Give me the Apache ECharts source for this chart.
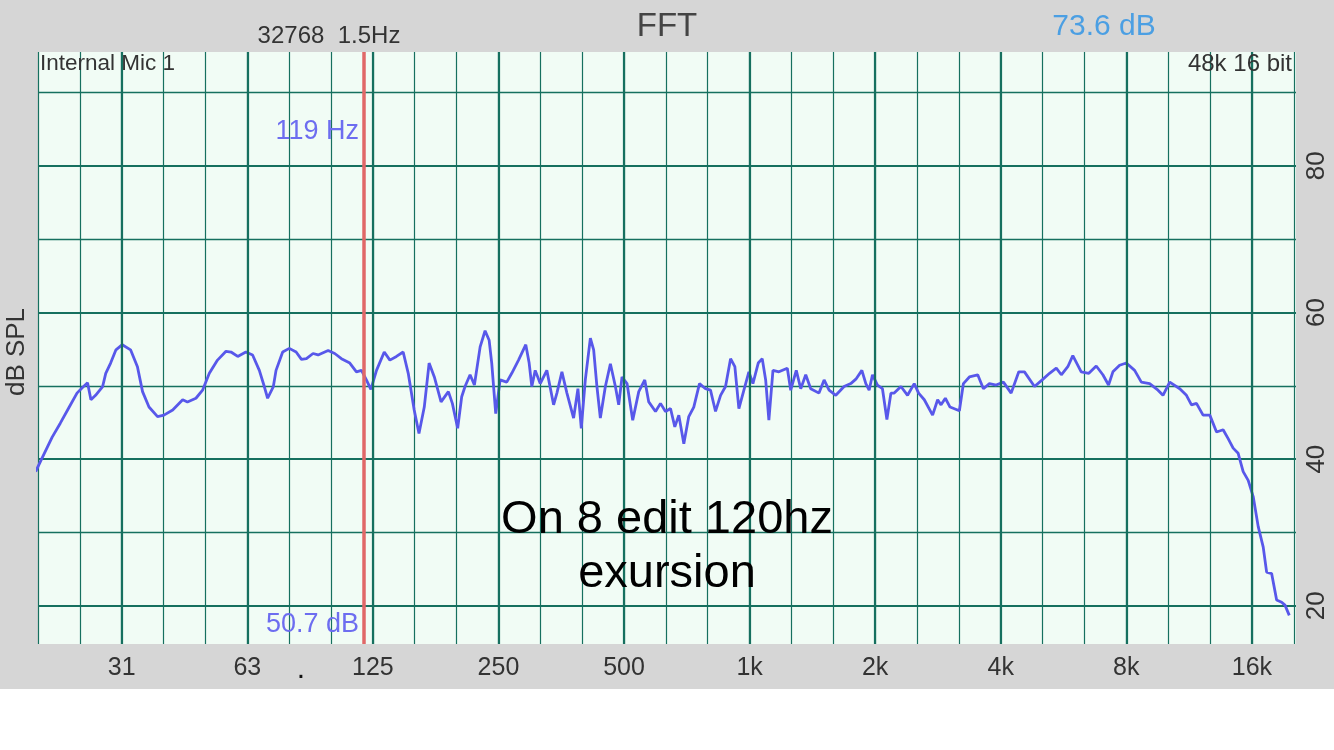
<!DOCTYPE html>
<html><head><meta charset="utf-8">
<script src="https://cdn.jsdelivr.net/npm/echarts@6/dist/echarts.min.js"></script>
<style>html,body{margin:0;padding:0;background:#fff;}#c{width:1334px;height:750px;}</style>
</head><body><div id="c"></div>
<script>
// ---- data (frequency in Hz on the analyser's binary-octave scale, level in dB SPL) ----
const freqHz = [
  19.9,20.6,21.8,22.8,23.9,25.0,25.7,26.5,27.0,27.7,
  28.8,29.3,30.1,31.0,32.1,33.6,34.9,35.9,37.2,39.0,
  40.4,42.4,44.8,46.0,48.2,50.0,51.9,54.3,56.9,58.5,
  60.7,63.5,65.9,68.4,70.3,71.6,73.9,75.0,77.8,80.7,
  83.8,86.3,88.7,92.0,94.6,100.0,103.7,107.6,112.7,116.9,
  120.2,123.5,126.6,130.6,136.3,140.6,145.8,151.3,155.6,160.8,
  165.1,170.0,174.6,179.7,186.5,194.2,198.5,204.4,209.0,212.9,
  218.9,224.2,231.4,237.8,243.2,246.7,252.2,258.4,268.0,275.5,
  286.0,297.7,303.3,307.8,313.6,322.4,334.4,347.1,353.5,363.4,
  373.6,387.6,397.0,404.4,413.5,425.2,433.0,440.9,449.3,461.9,
  474.9,488.2,497.2,506.4,520.6,537.2,555.4,574.1,586.9,609.2,
  626.2,643.7,661.8,677.7,692.8,712.3,732.0,752.5,776.6,802.8,
  825.2,848.5,872.4,896.6,921.9,944.0,965.2,992.3,1020,1043,
  1074,1098,1119,1139,1165,1204,1261,1285,1325,1358,
  1396,1435,1502,1545,1588,1648,1725,1790,1841,1903,
  1945,1981,2018,2074,2132,2185,2234,2275,2361,2449,
  2541,2603,2686,2812,2891,2946,3017,3096,3260,3333,
  3445,3607,3722,3848,3993,4157,4338,4525,4669,4935,
  5149,5362,5566,5722,5931,6097,6386,6661,6939,7197,
  7427,7607,7894,8192,8577,8901,9318,9758,10030,10410,
  11003,11416,11738,12067,12514,12988,13479,13979,14372,14773,
  15188,15614,16053,16502,16966,17441,17771,18270,18781,19309,19665,20139
];
const splDb = [
  38.3,40.1,43.0,44.9,47.0,49.0,49.7,50.4,48.1,48.7,
  49.9,51.7,53.1,54.9,55.6,54.9,52.6,49.2,47.1,45.8,
  46.0,46.7,48.1,47.8,48.3,49.4,51.7,53.5,54.7,54.6,
  54.0,54.6,54.2,52.1,49.9,48.3,49.9,52.1,54.6,55.1,
  54.6,53.6,53.7,54.4,54.2,54.8,54.4,53.7,53.1,51.9,
  52.1,50.8,49.5,52.1,54.6,53.5,54.0,54.6,51.7,46.7,
  43.5,47.1,53.1,51.2,47.8,49.2,47.6,44.2,48.5,49.9,
  51.5,50.1,55.3,57.5,56.2,53.1,46.2,50.8,50.5,51.7,
  53.5,55.6,53.1,49.9,52.1,50.3,52.1,47.4,49.0,51.9,
  49.0,45.6,49.6,44.2,50.8,56.5,54.9,49.9,45.6,49.9,
  53.0,49.9,47.4,51.2,50.3,45.3,49.2,50.8,47.8,46.5,
  47.6,46.5,46.9,44.4,46.0,42.1,45.8,47.1,50.3,49.6,
  49.4,46.5,48.7,49.9,53.7,52.6,46.9,49.4,51.9,50.3,
  53.1,53.7,50.8,45.3,52.1,51.9,52.4,49.4,52.1,49.6,
  51.5,49.6,49.0,50.8,49.4,48.7,49.9,50.3,50.9,52.1,
  50.3,49.4,51.5,50.1,49.6,45.4,49.0,49.0,49.9,48.7,
  50.3,49.0,48.1,46.0,48.1,47.4,48.3,47.1,46.6,50.3,
  51.2,51.5,49.6,50.3,50.1,50.5,49.0,51.9,51.9,49.9,
  50.8,51.7,52.4,51.5,52.6,54.1,51.9,51.7,52.7,51.5,
  50.1,51.9,52.8,53.1,52.1,50.5,50.3,49.4,48.7,50.5,
  49.6,48.7,47.4,47.6,46.0,46.0,43.7,44.0,42.8,41.5,
  40.8,38.3,37.1,34.9,30.8,28.0,24.6,24.4,20.8,20.5,20.1,18.7
];
const xTickHz = [32,64,128,256,512,1024,2048,4096,8192,16384];
const xTickLabels = ['31','63','125','250','500','1k','2k','4k','8k','16k'];
const yTickLabels = [20,40,60,80];
const cursorHz = 122;
const cursorText = '119 Hz';
const cursorLevelText = '50.7 dB';
const titleText = 'FFT';
const fftInfoText = '32768  1.5Hz';
const peakText = '73.6 dB';
const inputText = 'Internal Mic 1';
const formatText = '48k 16 bit';
const yAxisName = 'dB SPL';
const noteLines = ['On 8 edit 120hz', 'exursion'];

// ---- layout / style ----
const FONT = '"Liberation Sans", Arial, Helvetica, sans-serif';
const GRID = '#16705f';
const xMin = Math.pow(2, 13/3);
const xMax = 20900;
const yMin = 14.8, yMax = 95.5;

const chart = echarts.init(document.getElementById('c'), null, {renderer:'canvas'});
const data = freqHz.map((f,i)=>[f, splDb[i]]);

function txt(text, x, y, size, fill, align) {
  return {type:'text', z:100, silent:true,
    style:{text:text, x:x, y:y, font: size+'px '+FONT, fill:fill, align:align||'center', verticalAlign:'middle'}};
}

// third-octave index of each labelled octave line (for the label axis)
const thirdOctIdx = xTickHz.map(f=>Math.round(3*Math.log2(f)));

chart.setOption({
  animation:false,
  backgroundColor:'#d6d6d6',
  grid:{left:38, right:38, top:52, bottom:106, show:true, backgroundColor:'#f1fcf5', borderWidth:0},
  xAxis:[
    {type:'log', logBase:2, min:xMin, max:xMax,
     axisLine:{show:false}, axisTick:{show:false}, axisLabel:{show:false}, splitLine:{show:false}},
    {type:'value', min:13, max:3*Math.log2(xMax), interval:1, position:'bottom',
     axisLine:{show:false}, axisTick:{show:false},
     axisLabel:{show:true, interval:0, color:'#333', fontSize:25, fontFamily:FONT, margin:12,
       showMinLabel:true, showMaxLabel:false, hideOverlap:false,
       formatter:function(v){const i=thirdOctIdx.indexOf(Math.round(v));return (i>=0 && Math.abs(v-Math.round(v))<1e-6)?xTickLabels[i]:'';}},
     splitLine:{show:true, showMaxLine:false, lineStyle:{color:GRID, width:1.2}}}
  ],
  yAxis:{type:'value', position:'right', min:yMin, max:yMax, splitNumber:4,
    axisLine:{show:false}, axisTick:{show:false},
    axisLabel:{rotate:90, color:'#333', fontSize:26, fontFamily:FONT, margin:8,
      showMinLabel:false, showMaxLabel:false,
      formatter:function(v){return yTickLabels.indexOf(Math.round(v))>=0 && Math.abs(v-Math.round(v))<1e-6 ? String(Math.round(v)) : '';}},
    splitLine:{show:true, showMinLine:false, showMaxLine:false, lineStyle:{color:GRID, width:2}},
    minorTick:{show:false, splitNumber:2},
    minorSplitLine:{show:true, lineStyle:{color:GRID, width:1.3}}},
  series:[
    {type:'line', xAxisIndex:0, data:[], z:1, silent:true,
     markLine:{symbol:'none', silent:true, label:{show:false}, animation:false,
       lineStyle:{color:GRID, width:2.2, type:'solid'},
       data:xTickHz.map(f=>({xAxis:f}))}},
    {type:'line', xAxisIndex:0, data:data, showSymbol:false, symbol:'none', clip:true,
     lineStyle:{color:'#5858ea', width:2.8}, z:3,
     markLine:{symbol:'none', silent:true, label:{show:false}, animation:false,
       lineStyle:{color:'#e06868', width:3.5, type:'solid'},
       data:[{xAxis:cursorHz}]}}
  ],
  graphic:[
    {type:'rect', z:-1, silent:true, shape:{x:0, y:689, width:1334, height:61}, style:{fill:'#ffffff'}},
    txt(titleText, 667, 27, 33, '#444'),
    txt(fftInfoText, 329, 36, 24, '#333'),
    txt(peakText, 1104, 27, 30, '#4b9fe3'),
    txt(inputText, 40, 64, 22.5, '#333', 'left'),
    txt(formatText, 1292, 64, 24, '#333', 'right'),
    txt(cursorText, 359, 132, 27, '#6d6df0', 'right'),
    txt(cursorLevelText, 359, 625, 27, '#6d6df0', 'right'),
    txt(noteLines[0], 667, 520, 47, '#000'),
    txt(noteLines[1], 667, 574, 47, '#000'),
    txt('.', 301, 670, 30, '#111'),
    {type:'text', z:100, silent:true, x:17, y:352, rotation:Math.PI/2,
     style:{text:yAxisName, x:0, y:0, font:'26px '+FONT, fill:'#333', align:'center', verticalAlign:'middle'}}
  ]
});
</script>
</body></html>
